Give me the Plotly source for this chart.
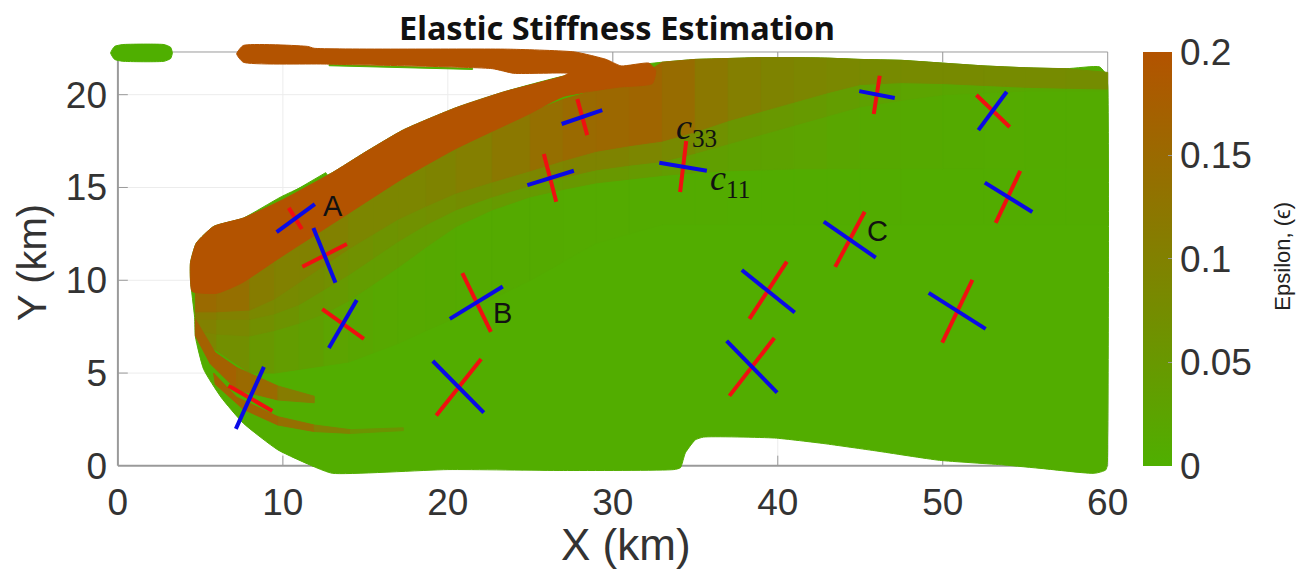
import plotly.graph_objects as go
from plotly.colors import sample_colorscale

# ---------- data (km / epsilon) ----------
X_TICKS = [0, 10, 20, 30, 40, 50, 60]
Y_TICKS = [0, 5, 10, 15, 20]
CB_TICKS = [0, 0.05, 0.1, 0.15, 0.2]
CB_LABELS = ["0", "0.05", "0.1", "0.15", "0.2"]

BODY_X = [4.7, 5.2, 6.25, 7.6, 9.7, 11.9, 13, 20, 27, 33.7, 34.1, 34.4, 35, 35.5, 39.8, 42.8, 46, 49.8, 53.7, 56.1, 59.2, 59.9, 60, 60, 59.9, 59.5, 57.5, 55, 52.5, 50, 47.5, 45, 43, 41, 39, 37, 35, 33, 30.5, 27, 23.4, 20.5, 17.3, 14.9, 13, 9.9, 7.6, 5.8, 4.75, 4.4, 4.4, 4.65]
BODY_Y = [6.95, 5.2, 3.7, 2.3, 0.86, -0.05, -0.4, -0.2, -0.25, -0.2, -0.1, 0.7, 1.4, 1.55, 1.5, 1.2, 0.8, 0.3, 0.05, -0.15, -0.4, -0.2, 1.6, 20.5, 21.1, 21.5, 21.4, 21.45, 21.55, 21.7, 21.85, 21.9, 21.97, 22.0, 22.0, 21.95, 21.9, 21.75, 21.5, 21, 20.15, 19.3, 18.1, 16.85, 15.8, 14.5, 13.35, 12.9, 12, 10.95, 10, 8]
BODY_EPS = 0.005

BROWN_X = [4.4, 4.4, 4.75, 5.8, 7.6, 9.9, 13, 14.9, 17.3, 20.5, 23.4, 27, 27.3, 24, 22.7, 12.5, 7.6, 7.2, 7.6, 11.5, 11.9, 23.8, 27.7, 29.6, 30.5, 32.2, 32.6, 32.4, 30.3, 27, 24.9, 20.5, 17.3, 13.8, 9.7, 7.5, 6, 4.5]
BROWN_Y = [10, 10.95, 12, 12.9, 13.35, 14.3, 15.8, 16.85, 18.1, 19.3, 20.15, 21, 21.15, 21.15, 21.4, 21.65, 21.75, 22.2, 22.65, 22.6, 22.5, 22.45, 22.3, 21.9, 21.55, 21.7, 21.3, 20.6, 20.4, 19.9, 18.95, 17.1, 15.5, 13.5, 11.15, 9.85, 9.3, 9.4]
BROWN_EPS = 0.2

STATION_X = [4.7, 6, 8, 9.5, 11, 12.5, 14, 15.5, 17, 18.7, 20.5, 22.7, 25, 27, 29, 31, 33, 35, 37, 39, 41, 43, 45, 47.5, 50, 52.5, 55, 57.5, 60]
CURVE_T = [9.5, 9.4, 10.15, 11.1, 12.0, 12.85, 13.75, 14.65, 15.45, 16.35, 17.2, 18.15, 19.05, 19.75, 20.25, 20.6, 21.75, 21.9, 21.95, 22.0, 22.0, 21.97, 21.9, 21.85, 21.7, 21.55, 21.45, 21.4, 21.2]
CURVE_1 = [8.3, 8.3, 8.4, 9.0, 9.9, 10.8, 11.7, 12.5, 13.3, 14.0, 14.7, 15.3, 15.9, 16.45, 16.95, 17.25, 17.5, 18.0, 18.6, 19.1, 19.6, 20.1, 20.55, 20.65, 20.6, 20.5, 20.4, 20.35, 20.3]
CURVE_2 = [7.9, 7.9, 7.9, 8.2, 8.7, 9.5, 10.3, 11.2, 12.1, 13.0, 13.8, 14.5, 15.1, 15.55, 15.95, 16.2, 16.4, 16.85, 17.35, 17.85, 18.35, 18.85, 19.35, 19.7, 20.0, 20.1, 20.2, 20.2, 20.2]
CURVE_3 = [7.3, 7.1, 7.0, 7.3, 7.7, 8.2, 8.9, 9.8, 10.7, 11.8, 12.9, 13.8, 14.5, 14.9, 15.25, 15.45, 15.65, 15.8, 15.9, 15.95, 16, 16, 16, 16, 16, 16, 16, 16, 16]
CURVE_4 = [7.0, 6.2, 5.0, 5.0, 5.2, 5.4, 5.6, 6.1, 6.6, 7.3, 8, 9, 10, 11, 12, 12.5, 13, 13, 13, 13, 13, 13, 13, 13, 13, 13, 13, 13, 13]
EPS_A = [.15, .14, .11, .10, .10, .10, .09, .09, .09, .095, .105, .12, .14, .15, .155, .16, .145, .12, .105, .095, .09, .085, .08, .08, .08, .078, .078, .075]
EPS_B = [.11, .10, .085, .08, .075, .07, .065, .06, .065, .07, .075, .08, .09, .095, .095, .09, .08, .065, .055, .05, .045, .04, .03, .025, .02, .018, .015, .012]
EPS_C = [.10, .085, .07, .06, .05, .045, .04, .04, .04, .04, .04, .045, .045, .05, .05, .045, .04, .035, .03, .028, .025, .02, .015, .012, .01, .009, .008, .008]
EPS_D = [.09, .07, .05, .04, .035, .025, .02, .016, .014, .012, .011, .01, .01, .009, .009, .008, .008, .008, .007, .007, .007, .006, .006, .006, .006, .006, .006, .006]

S1_UP_X = [4.7, 5.9, 7.2, 9.7, 11.9]
S1_UP_Y = [7.9, 6.1, 5.3, 4.3, 3.75]
S1_LO_X = [4.7, 5.6, 7.2, 9.7, 11.9]
S1_LO_Y = [7.0, 5.5, 4.1, 3.55, 3.4]
S1_EPS = [.17, .17, .15, .11]
S2_UP_X = [5.8, 7.2, 9.7, 11.9, 14.1, 17.3]
S2_UP_Y = [5.0, 3.7, 2.65, 2.2, 1.95, 2.05]
S2_LO_X = [5.9, 7.6, 9.7, 11.9, 14.1, 17.3]
S2_LO_Y = [4.4, 3.05, 2.2, 1.85, 1.75, 1.9]
S2_EPS = [.17, .16, .14, .10, .06]

SLIVER1_X = [12.8, 21.5, 21.5, 12.8]
SLIVER1_Y = [21.62, 21.42, 21.36, 21.56]
SLIVER2_X = [9.9, 12.7, 12.6, 10.0]
SLIVER2_Y = [14.3, 15.65, 15.8, 14.45]
PILL_X = [-0.44, -0.2, 0.3, 2.8, 3.2, 3.3, 3.2, 2.8, 0.3, -0.2]
PILL_Y = [22.25, 22.6, 22.7, 22.7, 22.55, 22.25, 21.95, 21.8, 21.8, 21.9]

# each cross: blue x0,y0,x1,y1 and red x0,y0,x1,y1
BLUE_SEGMENTS = [
    (9.62, 12.6, 11.94, 14.1), (11.85, 12.82, 13.19, 9.87), (26.9, 18.42, 29.36, 19.17),
    (24.82, 15.13, 27.64, 15.9), (14.48, 8.94, 12.79, 6.35), (20.12, 7.92, 23.33, 9.66),
    (19.09, 5.65, 22.18, 2.87), (8.85, 5.33, 7.15, 1.99), (32.82, 16.33, 35.7, 15.9),
    (44.94, 20.19, 47.09, 19.82), (53.88, 20.16, 52.16, 18.09), (52.55, 15.26, 55.43, 13.68),
    (42.79, 13.16, 45.94, 11.22), (37.82, 10.55, 41.03, 8.26), (36.9, 6.73, 39.96, 3.95),
    (49.15, 9.32, 52.6, 7.38)]
RED_SEGMENTS = [
    (10.36, 13.9, 11.15, 12.76), (11.18, 10.73, 13.88, 11.95), (27.85, 19.76, 28.45, 17.82),
    (25.82, 16.8, 26.57, 14.23), (12.39, 8.45, 14.91, 6.84), (20.88, 10.39, 22.61, 7.22),
    (22.02, 5.76, 19.3, 2.71), (6.7, 4.32, 9.36, 2.96), (34.45, 17.5, 34.08, 14.75),
    (46.18, 21.02, 45.82, 18.96), (52.04, 19.98, 54.06, 18.26), (54.7, 15.89, 53.21, 13.09),
    (45.27, 13.69, 43.48, 10.72), (40.55, 11.0, 38.28, 7.92), (39.79, 6.89, 37.07, 3.77),
    (51.8, 10.02, 49.97, 6.64)]

LABELS = [("A", 13.03, 14.0), ("B", 23.3, 8.24), ("C", 46.06, 12.65)]
C_LABELS = [("<i>c</i><sub>33</sub>", 35.1, 18.1), ("<i>c</i><sub>11</sub>", 37.1, 15.4)]

# ---------- layout constants (pixels of the 1309x573 page) ----------
SCALE = [[0, "#4FAF00"], [1, "#B35300"]]
EPS_MAX = 0.2
X_RANGE = [-0.6, 60.2]
Y_RANGE = [-0.6, 23.0]
W, H = 1309, 573
PL, PR, PT, PB = 108.1, 1111.3, 38.9, 477.1
PW, PH = PR - PL, PB - PT
GREY, LIGHT = "#9a9a9a", "#ececec"


def col(e):
    return sample_colorscale(SCALE, [e / EPS_MAX])[0]


fig = go.Figure()


def poly(xs, ys, e, smooth=False):
    c = col(e)
    line = dict(color=c, width=1)
    if smooth:
        line.update(shape="spline", smoothing=0.5)
    fig.add_trace(go.Scatter(x=list(xs) + [xs[0]], y=list(ys) + [ys[0]], mode="lines", fill="toself",
                             fillcolor=c, line=line, hoverinfo="skip", showlegend=False))


def ribbon(ux, uy, lx, ly, eps):
    for i, e in enumerate(eps):
        poly([ux[i], ux[i + 1], lx[i + 1], lx[i]], [uy[i], uy[i + 1], ly[i + 1], ly[i]], e)


# colour-bar carrier
fig.add_trace(go.Scatter(x=[30], y=[10], mode="markers", hoverinfo="skip", showlegend=False,
                         marker=dict(size=1, color=[BODY_EPS], coloraxis="coloraxis")))

poly(BODY_X, BODY_Y, BODY_EPS, smooth=True)
poly(SLIVER1_X, SLIVER1_Y, 0.0)
poly(SLIVER2_X, SLIVER2_Y, 0.0)
ribbon(STATION_X, CURVE_3, STATION_X, CURVE_4, EPS_D)
ribbon(STATION_X, CURVE_2, STATION_X, CURVE_3, EPS_C)
ribbon(STATION_X, CURVE_1, STATION_X, CURVE_2, EPS_B)
ribbon(STATION_X, CURVE_T, STATION_X, CURVE_1, EPS_A)
ribbon(S1_UP_X, S1_UP_Y, S1_LO_X, S1_LO_Y, S1_EPS)
ribbon(S2_UP_X, S2_UP_Y, S2_LO_X, S2_LO_Y, S2_EPS)
poly(BROWN_X, BROWN_Y, BROWN_EPS, smooth=True)
poly(PILL_X, PILL_Y, 0.0, smooth=True)

for segs, c in ((RED_SEGMENTS, "#F01010"), (BLUE_SEGMENTS, "#0A0AE6")):
    for s in segs:
        fig.add_trace(go.Scatter(x=[s[0], s[2]], y=[s[1], s[3]], mode="lines", hoverinfo="skip",
                                 showlegend=False, line=dict(color=c, width=4)))

# grid, frame and inner ticks, limited to the nominal 0-60 / 0-22.3 box
YTOP = 22.3
shapes = []


def seg(x0, y0, x1, y1, c, w):
    shapes.append(dict(type="line", x0=x0, y0=y0, x1=x1, y1=y1, xref="x", yref="y",
                       line=dict(color=c, width=w), layer="below"))


for v in X_TICKS[1:-1]:
    seg(v, 0, v, YTOP, LIGHT, 1)
for v in Y_TICKS[1:]:
    seg(0, v, 60, v, LIGHT, 1)
for v in X_TICKS[1:-1]:
    seg(v, 0, v, 0.55, GREY, 1)
    seg(v, YTOP - 0.55, v, YTOP, GREY, 1)
for v in Y_TICKS[1:]:
    seg(0, v, 0.6, v, GREY, 1)
seg(0, 0, 60, 0, GREY, 2)
seg(0, 0, 0, YTOP, GREY, 2)
seg(0, YTOP, 60, YTOP, GREY, 1)
seg(60, 0, 60, YTOP, GREY, 1)

ann = []
for t, x, y in LABELS:
    ann.append(dict(text=t, x=x, y=y, xref="x", yref="y", showarrow=False,
                    font=dict(family="Liberation Sans", size=29, color="#111")))
for t, x, y in C_LABELS:
    ann.append(dict(text=t, x=x, y=y, xref="x", yref="y", showarrow=False,
                    font=dict(family="Liberation Serif", size=36, color="#111")))


def px(xp):
    return (xp - PL) / PW


def py(yp):
    return (PB - yp) / PH


def page_text(text, xp, yp, size, color, family="Liberation Sans", angle=0):
    ann.append(dict(text=text, x=px(xp), y=py(yp), xref="paper", yref="paper", showarrow=False,
                    xanchor="center", yanchor="middle", textangle=angle,
                    font=dict(family=family, size=size, color=color)))


page_text("<b>Elastic Stiffness Estimation</b>", 617, 27, 32.5, "#111", family="Noto Sans")
page_text("X (km)", 626, 545, 44, "#333")
page_text("Y (km)", 32, 262, 40, "#333", angle=-90)
page_text("Epsilon, (\u03f5)", 1282, 256, 22, "#222", angle=-90)

TICKFONT = dict(family="Liberation Sans", size=37, color="#333")
fig.update_layout(
    width=W, height=H, margin=dict(l=PL, r=W - PR, t=PT, b=H - PB, autoexpand=False),
    paper_bgcolor="white", plot_bgcolor="white", showlegend=False, shapes=shapes, annotations=ann,
    xaxis=dict(range=X_RANGE, tickmode="array", tickvals=X_TICKS, showgrid=False, zeroline=False,
               ticks="", showline=False, tickfont=TICKFONT),
    yaxis=dict(range=Y_RANGE, tickmode="array", tickvals=Y_TICKS, showgrid=False, zeroline=False,
               ticks="", showline=False, tickfont=TICKFONT),
    coloraxis=dict(cmin=0, cmax=EPS_MAX, colorscale=SCALE, colorbar=dict(
        thickness=29, thicknessmode="pixels", lenmode="fraction", len=414 / PH,
        x=px(1143), xanchor="left", y=py(466), yanchor="bottom", xpad=0, ypad=0,
        outlinewidth=0, ticks="inside", ticklen=4, tickcolor=GREY,
        tickmode="array", tickvals=CB_TICKS, ticktext=CB_LABELS, tickfont=TICKFONT)),
)
fig.write_html("out.html", config={"displayModeBar": False},
               post_script="document.body.style.margin='0';")
